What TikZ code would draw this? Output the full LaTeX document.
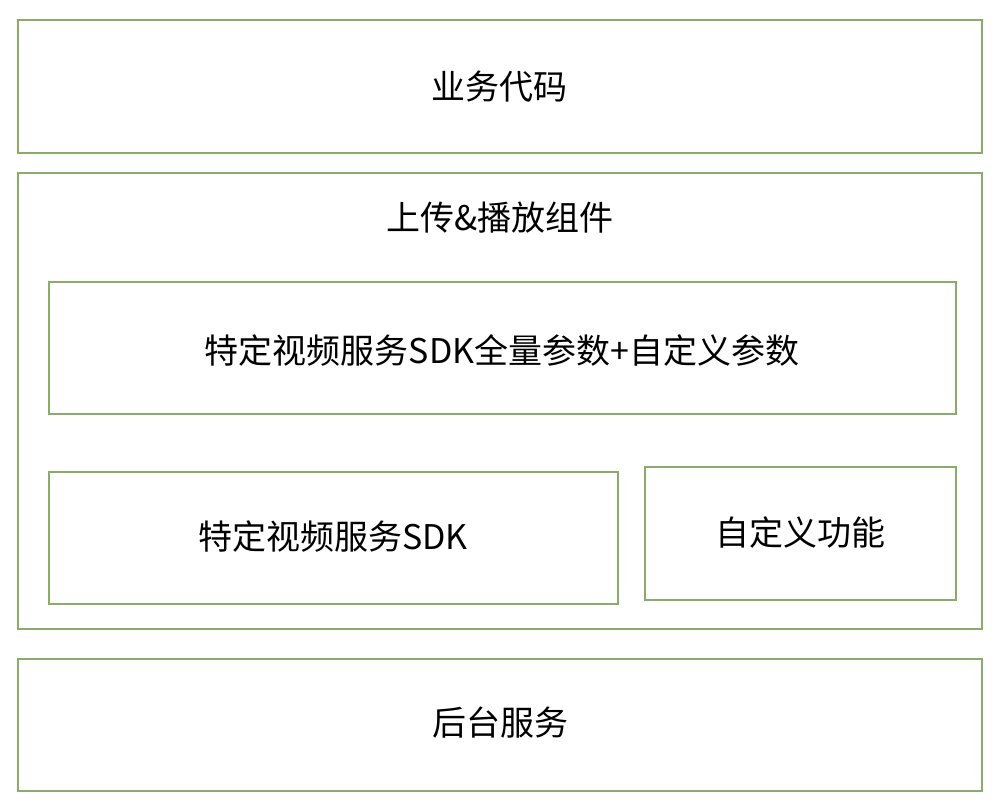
\documentclass[tikz,border=0pt]{standalone}
\usepackage{fontspec}
\setmainfont{Noto Sans CJK SC}
\definecolor{boxgreen}{RGB}{138,172,106}
\begin{document}
\begin{tikzpicture}[x=1pt,y=-1pt,
  box/.style={draw=boxgreen,line width=2pt},
  lbl/.style={font=\fontsize{34}{40}\selectfont,text=black,inner sep=0pt}]
\useasboundingbox (0,0) rectangle (1000,809);
\draw[box] (18,20) rectangle (982,153);
\draw[box] (18,173) rectangle (982,629);
\draw[box] (49,282) rectangle (956,414);
\draw[box] (49,472) rectangle (618,604);
\draw[box] (645,467) rectangle (956,600);
\draw[box] (18,659) rectangle (982,791);
\node[lbl] (t1) at (499,87) {业务代码};
\node[lbl] (t2) at (500,218) {上传\&播放组件};
\node[lbl] (t3) at (502,350) {特定视频服务SDK全量参数+自定义参数};
\node[lbl] (t4) at (333,537) {特定视频服务SDK};
\node[lbl] (t5) at (800,533) {自定义功能};
\node[lbl] (t6) at (500,723) {后台服务};
\end{tikzpicture}
\end{document}
